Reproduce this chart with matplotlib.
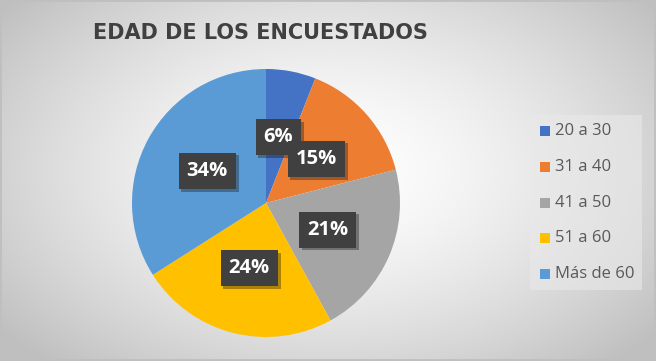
import numpy as np
import matplotlib.pyplot as plt
from matplotlib.patches import Rectangle
import matplotlib.patheffects as pe

labels = ["20 a 30", "31 a 40", "41 a 50", "51 a 60", "Más de 60"]
values = [6, 15, 21, 24, 34]
colors = ["#4472C4", "#ED7D31", "#A5A5A5", "#FFC000", "#5B9BD5"]
title = "EDAD DE LOS ENCUESTADOS"

W, H = 656, 361
fig = plt.figure(figsize=(W / 100, H / 100), dpi=100)

# radial gradient background
bg = fig.add_axes([0, 0, 1, 1])
yy, xx = np.mgrid[0:H, 0:W]
d = np.sqrt(((xx - 330) / 420.0) ** 2 + ((yy - 170) / 260.0) ** 2)
shade = 1.0 - 0.25 * np.clip(d, 0, 1) ** 1.5
bg.imshow(np.dstack([shade] * 3), extent=[0, W, H, 0], aspect="auto")
bg.set_xlim(0, W)
bg.set_ylim(H, 0)
bg.axis("off")
bg.add_patch(Rectangle((0, 0), W - 1, H - 1, fill=False, ec="#bfbfbf", lw=2))
# legend panel
bg.add_patch(Rectangle((530, 115), 112, 175, fc="#e9e9e9", ec="none", alpha=0.6))

bg.text(93, 33, title, fontsize=15, fontweight="bold", color="#404040",
        family="DejaVu Sans", va="center", ha="left")

# pie
cx, cy, r = 266, 203, 134
ax = fig.add_axes([(cx - r) / W, (H - cy - r) / H, 2 * r / W, 2 * r / H])
wedges, _ = ax.pie(values, colors=colors, startangle=90, counterclock=False,
                   radius=1, wedgeprops=dict(linewidth=0))
ax.set_xlim(-1, 1)
ax.set_ylim(-1, 1)
ax.set_aspect("equal")
ax.axis("off")

cum = np.cumsum([0] + values)
for i, v in enumerate(values):
    mid = (cum[i] + v / 2) / 100.0 * 2 * np.pi
    x = 0.5 * np.sin(mid)
    y = 0.5 * np.cos(mid)
    ax.text(x, y, f"{v}%", ha="center", va="center", color="white",
            fontsize=14.5, fontweight="bold", family="Open Sans",
            bbox=dict(boxstyle="square,pad=0.4", fc="#404040", ec="none",
                      path_effects=[pe.SimplePatchShadow(offset=(2, -2), alpha=0.35),
                                    pe.Normal()]))

# legend
ly = [131, 167, 203, 238, 274]
for lab, col, y in zip(labels, colors, ly):
    bg.add_patch(Rectangle((540, y - 5), 10, 10, fc=col, ec="none"))
    bg.text(555, y, lab, fontsize=12, color="#595959", family="Open Sans",
            va="center", ha="left")

fig.savefig("out.png", dpi=100)
